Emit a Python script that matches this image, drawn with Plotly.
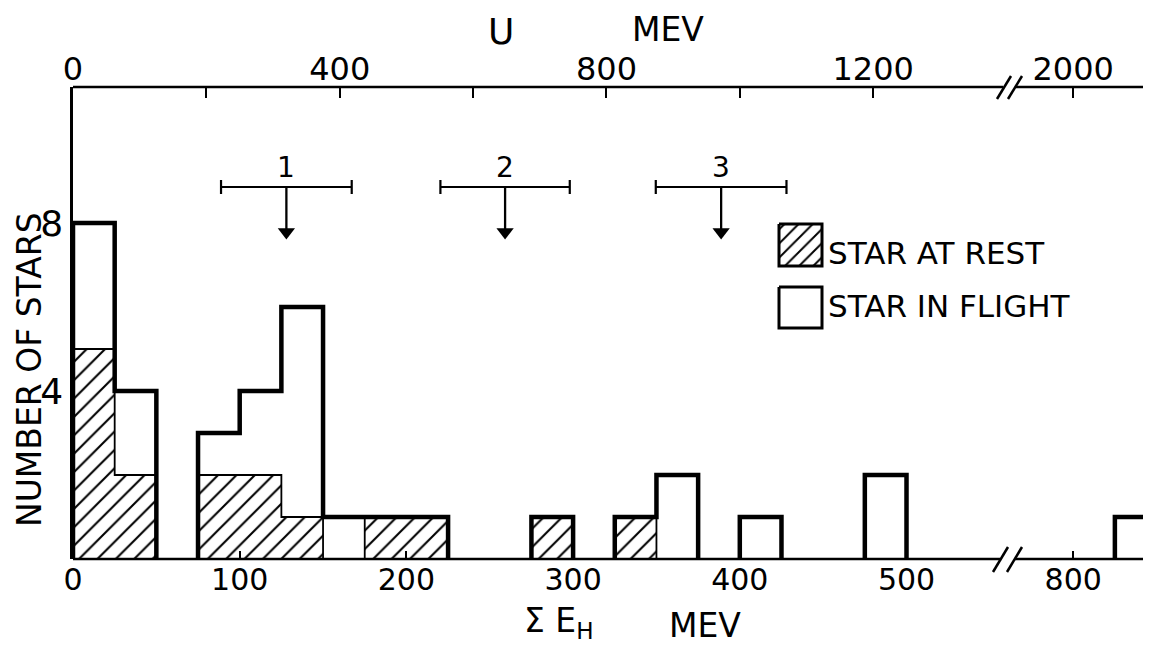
import numpy as np
import plotly.graph_objects as go

# ---------------- data ----------------
bin_left = [0, 25, 75, 100, 125, 150, 175, 200, 275, 325, 350, 400, 475, 825]
n_rest   = [5, 2, 2, 2, 1, 0, 1, 1, 1, 1, 0, 0, 0, 0]
n_flight = [3, 2, 1, 2, 5, 1, 0, 0, 0, 0, 2, 1, 2, 1]
BIN_W = 25

bottom_ticks = [0, 100, 200, 300, 400, 500, 800]
top_major_u = [0, 400, 800, 1200, 2000]
top_minor_u = [200, 600, 1000]
y_ticks = [4, 8]

thresh_labels = ['1', '2', '3']
thresh_u = [320, 648, 972]
thresh_u_half = [98, 97, 98]
U_PER_E = 2.5

# ---------------- broken axis mapping ----------------
CUT_E = 650      # values above this are shifted left
GAP = 200        # MeV removed by the axis break (800 -> 600)


def disp(e):
    e = np.asarray(e, dtype=float)
    return np.where(e < CUT_E, e, e - GAP)


# ---------------- geometry (page pixels) ----------------
VW, VH = 1151, 646          # browser window
OFF = 8                     # default body margin of the page
PL, PR, PT, PB = 73, 1151, 87, 559   # plot area in page pixels
W, H = VW - OFF, VH - OFF
ML, MR, MT, MB = PL - OFF, (OFF + W) - PR, PT - OFF, (OFF + H) - PB
PX_PER_E = 1.667
PX_PER_N = 42.0
XMAX = (PR - PL) / PX_PER_E
YMAX = (PB - PT) / PX_PER_N
FONT = "DejaVu Sans"


def px2x(px):
    return (px - PL) / PX_PER_E


def px2y(py):
    return (PB - py) / PX_PER_N


def pxx(px):
    return (px - PL) / (PR - PL)


def pxy(py):
    return (PB - py) / (PB - PT)


def step_path(lefts, counts):
    groups, cur = [], []
    for l, c in sorted(zip(lefts, counts)):
        if c > 0 and cur and cur[-1][0] + BIN_W == l:
            cur.append((l, c))
        elif c > 0:
            if cur:
                groups.append(cur)
            cur = [(l, c)]
        else:
            if cur:
                groups.append(cur)
            cur = []
    if cur:
        groups.append(cur)
    xs, ys = [], []
    for g in groups:
        xs.append(g[0][0]); ys.append(0)
        for l, c in g:
            xs += [l, l + BIN_W]; ys += [c, c]
        xs.append(g[-1][0] + BIN_W); ys.append(0)
        xs.append(None); ys.append(None)
    xd = [None if v is None else float(disp(v)) for v in xs]
    return xd, ys


fig = go.Figure()

centers = disp(np.array(bin_left) + BIN_W / 2)
fig.add_trace(go.Bar(
    x=centers, y=n_rest, width=BIN_W, name="STAR AT REST",
    marker=dict(color="white", line=dict(width=0),
                pattern=dict(shape="/", fgcolor="black", bgcolor="white",
                             fgopacity=1, size=13, solidity=0.16)),
    showlegend=False, hoverinfo="skip"))
fig.add_trace(go.Bar(
    x=centers, y=n_flight, width=BIN_W, name="STAR IN FLIGHT",
    marker=dict(color="white", line=dict(width=0)),
    showlegend=False, hoverinfo="skip"))

rx, ry = step_path(bin_left, n_rest)
fig.add_trace(go.Scatter(x=rx, y=ry, mode="lines",
                         line=dict(color="black", width=1.8),
                         showlegend=False, hoverinfo="skip"))
totals = [a + b for a, b in zip(n_rest, n_flight)]
tx, ty = step_path(bin_left, totals)
fig.add_trace(go.Scatter(x=tx, y=ty, mode="lines",
                         line=dict(color="black", width=4.5),
                         showlegend=False, hoverinfo="skip"))

# threshold markers on the U axis
tcx = disp(np.array(thresh_u) / U_PER_E)
thalf = np.array(thresh_u_half) / U_PER_E
bar_y = px2y(187)
head_y = px2y(232)
fig.add_trace(go.Scatter(
    x=tcx, y=[bar_y] * len(tcx), xaxis="x2", mode="markers",
    marker=dict(size=1, color="rgba(0,0,0,0)"),
    error_x=dict(type="data", array=thalf, symmetric=True,
                 color="black", thickness=2.2, width=7),
    showlegend=False, hoverinfo="skip"))
sx, sy = [], []
for cx in tcx:
    sx += [float(cx), float(cx), None]
    sy += [bar_y, head_y, None]
fig.add_trace(go.Scatter(x=sx, y=sy, xaxis="x2", mode="lines",
                         line=dict(color="black", width=2.3),
                         showlegend=False, hoverinfo="skip"))
fig.add_trace(go.Scatter(x=tcx, y=[head_y] * len(tcx), xaxis="x2",
                         mode="markers",
                         marker=dict(symbol="triangle-down", size=15,
                                     color="black", line=dict(width=0)),
                         showlegend=False, hoverinfo="skip"))

annotations = []
for lab, cx in zip(thresh_labels, tcx):
    annotations.append(dict(
        x=float(cx), y=px2y(167), xref="x2", yref="y", text=lab,
        xanchor="center", yanchor="middle",
        showarrow=False, font=dict(size=28, color="black", family=FONT)))

# legend boxes
x0, x1 = px2x(779), px2x(822)
fig.add_trace(go.Scatter(
    x=[x0, x1, x1, x0, x0],
    y=[px2y(224), px2y(224), px2y(266), px2y(266), px2y(224)],
    mode="lines", fill="toself",
    fillpattern=dict(shape="/", fgcolor="black", bgcolor="white",
                     fgopacity=1, size=10, solidity=0.2),
    line=dict(color="black", width=3), showlegend=False, hoverinfo="skip"))
fig.add_trace(go.Scatter(
    x=[x0, x1, x1, x0, x0],
    y=[px2y(287), px2y(287), px2y(328), px2y(328), px2y(287)],
    mode="lines", fill="toself", fillcolor="white",
    line=dict(color="black", width=3), showlegend=False, hoverinfo="skip"))
annotations.append(dict(x=px2x(826), y=px2y(253), xref="x", yref="y",
                        xanchor="left", yanchor="middle",
                        text="STAR AT REST", showarrow=False,
                        font=dict(size=31, color="black", family=FONT)))
annotations.append(dict(x=px2x(826), y=px2y(306), xref="x", yref="y",
                        xanchor="left", yanchor="middle",
                        text="STAR IN FLIGHT", showarrow=False,
                        font=dict(size=31, color="black", family=FONT)))

# axis titles
annotations += [
    dict(x=pxx(501), y=pxy(32), xref="paper", yref="paper", text="U",
         xanchor="center", yanchor="middle",
         showarrow=False, font=dict(size=36, color="black", family=FONT)),
    dict(x=pxx(668), y=pxy(29), xref="paper", yref="paper", text="MEV",
         xanchor="center", yanchor="middle",
         showarrow=False, font=dict(size=33, color="black", family=FONT)),
    dict(x=pxx(522), y=pxy(622), xref="paper", yref="paper",
         xanchor="left", yanchor="middle", text="Σ E<sub>H</sub>",
         showarrow=False, font=dict(size=33, color="black", family=FONT)),
    dict(x=pxx(705), y=pxy(625), xref="paper", yref="paper", text="MEV",
         xanchor="center", yanchor="middle",
         showarrow=False, font=dict(size=33, color="black", family=FONT)),
    dict(x=pxx(29), y=pxy(370), xref="paper", yref="paper",
         text="NUMBER OF STARS", textangle=-90,
         xanchor="center", yanchor="middle",
         showarrow=False, font=dict(size=33, color="black", family=FONT)),
]

# axis lines with breaks, and break marks
shapes = []
LW = 2.5
for (a, b, py) in [(PL, 1003, PT), (1016, PR, PT), (PL, 1000, PB), (1015, PR, PB)]:
    shapes.append(dict(type="line", xref="paper", yref="paper",
                       x0=pxx(a), x1=pxx(b), y0=pxy(py), y1=pxy(py),
                       line=dict(color="black", width=LW)))
for (xa, ya, xb, yb) in [(997, 99, 1011, 76), (1008, 99, 1022, 76),
                         (993, 572, 1008, 547), (1007, 572, 1022, 547)]:
    shapes.append(dict(type="line", xref="paper", yref="paper",
                       x0=pxx(xa), y0=pxy(ya), x1=pxx(xb), y1=pxy(yb),
                       line=dict(color="black", width=2.5)))

fig.update_layout(
    width=W, height=H,
    margin=dict(l=ML, r=MR, t=MT, b=MB, pad=0),
    paper_bgcolor="white", plot_bgcolor="white",
    barmode="stack", bargap=0,
    font=dict(family=FONT, color="black"),
    showlegend=False,
    xaxis=dict(range=[0, XMAX], showgrid=False, zeroline=False, showline=False,
               tickvals=[float(v) for v in disp(bottom_ticks)],
               ticktext=[str(v) for v in bottom_ticks],
               ticks="inside", ticklen=8, tickwidth=2, tickcolor="black",
               tickfont=dict(size=30, family=FONT, color="black"),
               fixedrange=True),
    xaxis2=dict(range=[0, XMAX], overlaying="x", side="top", showgrid=False,
                zeroline=False, showline=False,
                tickvals=[float(v) for v in disp(np.array(top_major_u) / U_PER_E)],
                ticktext=[str(v) for v in top_major_u],
                ticks="inside", ticklen=11, tickwidth=2, tickcolor="black",
                tickfont=dict(size=32, family=FONT, color="black"),
                minor=dict(tickvals=[float(v) for v in disp(np.array(top_minor_u) / U_PER_E)],
                           ticks="inside", ticklen=11, tickwidth=2,
                           tickcolor="black", showgrid=False)),
    yaxis=dict(range=[0, YMAX], showgrid=False, zeroline=False,
               showline=True, linewidth=2.5, linecolor="black",
               tickvals=y_ticks, ticktext=[str(v) for v in y_ticks], ticks="",
               tickfont=dict(size=36, family=FONT, color="black")),
    annotations=annotations,
    shapes=shapes,
)

fig.write_html("out.html")
